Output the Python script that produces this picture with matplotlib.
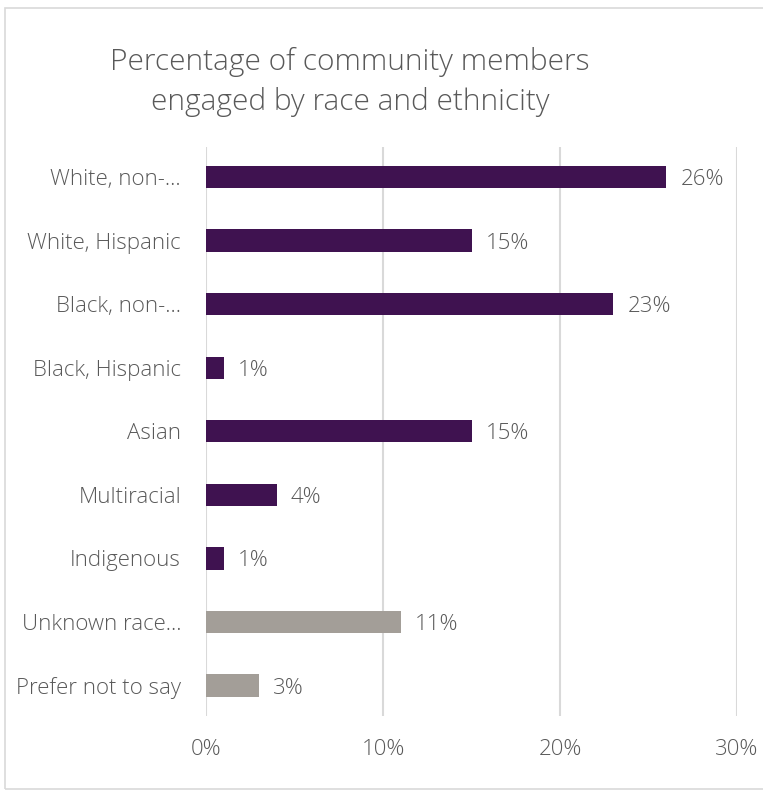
import matplotlib.pyplot as plt
from matplotlib.patches import Rectangle

categories = ['White, non-...', 'White, Hispanic', 'Black, non-...', 'Black, Hispanic',
              'Asian', 'Multiracial', 'Indigenous', 'Unknown race...', 'Prefer not to say']
values = [26, 15, 23, 1, 15, 4, 1, 11, 3]
bar_colors = ['#3f1250'] * 7 + ['#a39e98'] * 2
xticks = [0, 10, 20, 30]

plt.rcParams['font.family'] = ['Open Sans', 'DejaVu Sans']
text_color = '#595959'

fig = plt.figure(figsize=(7.63, 7.95), dpi=100)
fig.patches.append(Rectangle((0.007, 0.008), 1.2, 0.982, transform=fig.transFigure,
                             fill=False, edgecolor='#d9d9d9', linewidth=1.2))

ax = fig.add_axes([0.27, 0.10, 0.696, 0.715])
y = list(range(len(categories)))
ax.barh(y, values, height=0.35, color=bar_colors, zorder=3)
for yi, v in zip(y, values):
    ax.text(v + 0.8, yi, '%d%%' % v, va='center_baseline', ha='left', fontsize=16,
            color=text_color, fontweight='light')

ax.set_xlim(0, 30)
ax.set_ylim(len(categories) - 0.53, -0.47)
ax.set_yticks(y)
ax.set_yticklabels(categories, fontsize=16, color=text_color, fontweight='light')
ax.set_xticks(xticks)
ax.set_xticklabels(['%d%%' % t for t in xticks], fontsize=16, color=text_color,
                   fontweight='light')
ax.tick_params(length=0, pad=18, axis='y')
ax.tick_params(length=0, pad=17, axis='x')
ax.grid(axis='x', color='#d9d9d9', linewidth=1.5, zorder=0)
for s in ax.spines.values():
    s.set_visible(False)

fig.text(0.459, 0.897, 'Percentage of community members\nengaged by race and ethnicity',
         ha='center', va='center', fontsize=21.5, color=text_color, fontweight='light',
         linespacing=1.45)

fig.savefig('out.png', dpi=100)
